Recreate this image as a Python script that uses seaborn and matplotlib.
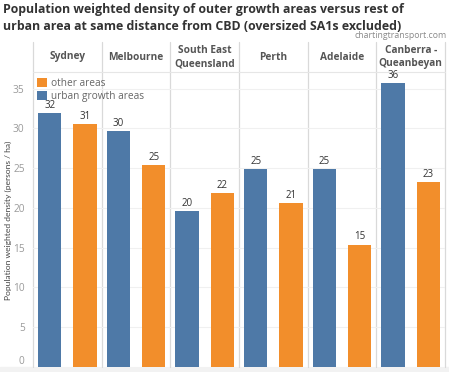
import numpy as np
import pandas as pd
import matplotlib
matplotlib.use("Agg")
import matplotlib.pyplot as plt
import seaborn as sns
from matplotlib.patches import Patch

cities = ["Sydney", "Melbourne", "South East\nQueensland", "Perth", "Adelaide", "Canberra -\nQueanbeyan"]
growth_vals = [31.9, 29.7, 19.6, 24.9, 24.9, 35.7]
other_vals = [30.6, 25.4, 21.9, 20.6, 15.4, 23.3]
growth_labels = ["32", "30", "20", "25", "25", "36"]
other_labels = ["31", "25", "22", "21", "15", "23"]
series = ["urban growth areas", "other areas"]
yticks = [0, 5, 10, 15, 20, 25, 30, 35]

BLUE = "#4e79a7"
ORANGE = "#f28e2b"

df = pd.DataFrame({
    "city": cities * 2,
    "type": [series[0]] * len(cities) + [series[1]] * len(cities),
    "value": growth_vals + other_vals,
})

sns.set_theme(style="white")
plt.rcParams['font.family'] = ['Open Sans', 'DejaVu Sans']

W, H = 449, 372
fig = plt.figure(figsize=(W / 100, H / 100), dpi=100)
x0, x1, ytop, ybot = 33, 445, 72, 367
ax = fig.add_axes([x0 / W, 1 - ybot / H, (x1 - x0) / W, (ybot - ytop) / H])

sns.barplot(data=df, x="city", y="value", hue="type", hue_order=series,
            order=cities, palette=[BLUE, ORANGE], width=1.03, gap=0.344,
            ax=ax, legend=False, saturation=1, edgecolor="none")

ax.set_xlim(-0.5, len(cities) - 0.5)
ax.set_ylim(0, 37.1)
ax.set_yticks(yticks)
ax.set_yticklabels([str(t) for t in yticks], fontsize=7.3, color="#9a9a9a")
ax.get_yticklabels()[0].set_va("bottom")
ax.tick_params(axis="y", length=0, pad=6)
ax.set_xticks([])
ax.set_xlabel("")
ax.set_ylabel("Population weighted density (persons / ha)", fontsize=6.1,
              color="#444444", family=["Lato", "DejaVu Sans"])
ax.yaxis.set_label_coords(-(x0 - 12) / (x1 - x0), (ybot - 220) / (ybot - ytop))
for s in ax.spines.values():
    s.set_visible(False)
ax.grid(axis="y", color="#f0f0f0", linewidth=0.8)
ax.set_axisbelow(True)

# value labels
labels_by_series = [growth_labels, other_labels]
for i, cont in enumerate(ax.containers):
    ax.bar_label(cont, labels=labels_by_series[i], fontsize=7, color="#333333", padding=1.5)

# panel separators extending into header
hdr_top = 1 + (ytop - 42) / (ybot - ytop)
for xv in np.arange(-0.5, len(cities), 1.0):
    ax.plot([xv, xv], [0, hdr_top], transform=ax.get_xaxis_transform(),
            color="#d9d9d9", lw=0.9, clip_on=False, zorder=0)
ax.plot([-0.5, len(cities) - 0.5], [1, 1], transform=ax.get_xaxis_transform(),
        color="#e6e6e6", lw=0.8, clip_on=False)

# header city names
for i, c in enumerate(cities):
    ax.text(i, 1 + (ytop - 57) / (ybot - ytop), c, transform=ax.get_xaxis_transform(),
            ha="center", va="center", fontsize=7.3, fontweight="bold", color="#555555",
            linespacing=1.25)

# bottom band
fig.patches.append(plt.Rectangle((0, 0), 1, (H - ybot) / H, transform=fig.transFigure,
                                 color="#f2f2f2", zorder=-1))

# legend
handles = [Patch(facecolor=ORANGE, edgecolor="none", label="other areas"),
           Patch(facecolor=BLUE, edgecolor="none", label="urban growth areas")]
leg = ax.legend(handles=handles, loc="upper left", bbox_to_anchor=(-0.004, 1.0),
                frameon=False, fontsize=7.3, handlelength=0.9, handleheight=0.9,
                handletextpad=0.4, labelspacing=0.2, borderaxespad=0.2)
for t in leg.get_texts():
    t.set_color("#666666")

fig.text(3 / W, 1 - 9 / H,
         "Population weighted density of outer growth areas versus rest of",
         fontsize=8.95, fontweight="bold", color="#333333", va="center", ha="left")
fig.text(3 / W, 1 - 26 / H,
         "urban area at same distance from CBD (oversized SA1s excluded)",
         fontsize=8.95, fontweight="bold", color="#333333", va="center", ha="left")
fig.text(447 / W, 1 - 36 / H, "chartingtransport.com", fontsize=6.3, color="#8a8a8a",
         ha="right", va="center")

fig.savefig("out.png", dpi=100)
